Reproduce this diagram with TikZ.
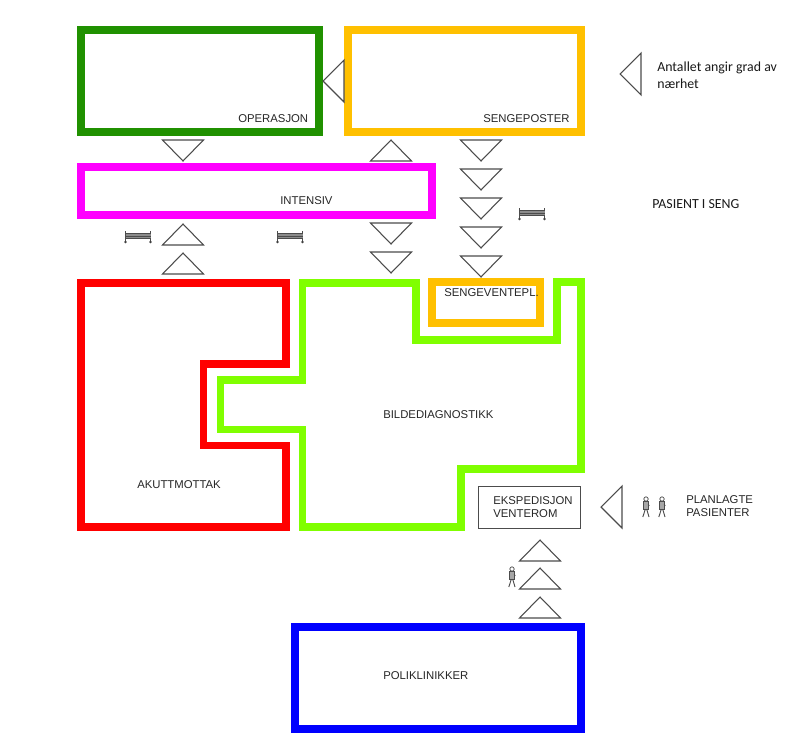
\documentclass[tikz,border=0pt]{standalone}
\usepackage{fontspec}
\setmainfont{Liberation Sans}
\newfontfamily\notefont{Carlito}
\definecolor{amber}{RGB}{255,192,0}
\definecolor{mag}{RGB}{255,0,255}
\definecolor{lime}{RGB}{128,255,0}
\definecolor{leaf}{RGB}{32,145,0}
\tikzset{
  x=0.75pt,y=-0.75pt,
  wall/.style={line width=5.8pt,miter limit=10},
  lbl/.style={inner sep=0pt,font=\fontsize{8.5}{10.2}\selectfont,text=black!85},
  note/.style={inner sep=0pt,font=\notefont\fontsize{10.4}{12.6}\selectfont,align=left,text=black!90},
  tri/.style={draw=black!70,line width=0.8pt,line join=miter,fill=white},
  icon/.style={draw=black!70,line width=0.55pt},
  pics/up/.style={code={\draw[tri] (-20.5,21)--(0,0)--(20.5,21)--cycle;}},
  pics/down/.style={code={\draw[tri] (-20.5,0)--(0,21)--(20.5,0)--cycle;}},
  pics/left/.style={code={\draw[tri] (21,-21)--(0,0)--(21,21)--cycle;}},
  pics/bed/.style={code={
    \draw[icon] (-12.5,-6)--(-12.5,5.5) (12.5,-6)--(12.5,5.5);
    \fill[black!45] (-12.5,-3.5) rectangle (12.5,1.5);
    \draw[icon] (-12.5,-3.5)--(12.5,-3.5) (-12.5,-1)--(12.5,-1) (-12.5,1.5)--(12.5,1.5);
    \fill[black!75] (-12.5,5) circle (1.4) (12.5,5) circle (1.4);}},
  pics/walker/.style={code={
    \draw[icon] (0,-8) circle (2.2);
    \draw[icon,fill=black!35] (-2.2,-5.5) rectangle (2.2,2.5);
    \draw[icon,line width=0.7pt] (-0.8,2.5)--(-3.2,10) (0.8,2.5)--(3,10) (2.2,-3)--(3.2,-1);}}
}
\begin{document}
\begin{tikzpicture}
\useasboundingbox (0,0) rectangle (795,753);
\draw[wall,leaf] (81,30) rectangle (319,132);
\draw[wall,amber] (348,30) rectangle (581,132);
\draw[wall,mag] (81,167) rectangle (432,215);
\draw[wall,red] (81,283) -- (286,283) -- (286,364) -- (203.5,364) -- (203.5,445.5) -- (286,445.5) -- (286,527) -- (81,527) -- cycle;
\draw[wall,lime] (302.5,283) -- (416,283) -- (416,340) -- (557,340) -- (557,282) -- (581,282) -- (581,469) -- (461,469) -- (461,527) -- (302.5,527) -- (302.5,429.5) -- (220.5,429.5) -- (220.5,380) -- (302.5,380) -- cycle;
\draw[wall,amber] (432,282) rectangle (540,323);
\draw[wall,blue] (295,627) rectangle (581,729);
\node[draw=black!70,line width=0.75pt,minimum width=77pt,minimum height=31.5pt,inner sep=0pt] (eksp) at (529.5,507) {};

\pic at (183,140) {down};
\pic at (391,140) {up};
\foreach \y in {140,169,198,227,256} \pic at (481,\y) {down};
\pic at (183,224) {up};
\pic at (183,253) {up};
\pic at (391,223) {down};
\pic at (391,252) {down};
\foreach \y in {540,568,597} \pic at (540,\y) {up};
\pic at (323,81) {left};
\pic at (620,74) {left};
\pic at (601,507) {left};

\pic at (138,237) {bed};
\pic at (290,237) {bed};
\pic at (532,214) {bed};
\pic at (646,507) {walker};
\pic at (662,507) {walker};
\pic at (512,577) {walker};

\node[lbl,anchor=west] (op) at (238,118.5) {OPERASJON};
\node[lbl,anchor=west] (sp) at (483,118.5) {SENGEPOSTER};
\node[lbl,anchor=west] (in) at (280,200.5) {INTENSIV};
\node[lbl,anchor=west] (sv) at (444,292.5) {SENGEVENTEPL.};
\node[lbl,anchor=west] (bd) at (383,414.5) {BILDEDIAGNOSTIKK};
\node[lbl,anchor=west] (ak) at (137,484.5) {AKUTTMOTTAK};
\node[lbl,anchor=west,align=left] (ek) at (493,507) {EKSPEDISJON\\VENTEROM};
\node[lbl,anchor=west] (po) at (383,675.5) {POLIKLINIKKER};
\node[lbl,anchor=west,align=left] (pl) at (686,506) {PLANLAGTE\\PASIENTER};
\node[note,anchor=west] (an) at (657,75) {Antallet angir grad av\\nærhet};
\node[note,anchor=west] (ps) at (652,204) {PASIENT I SENG};
\end{tikzpicture}
\end{document}
